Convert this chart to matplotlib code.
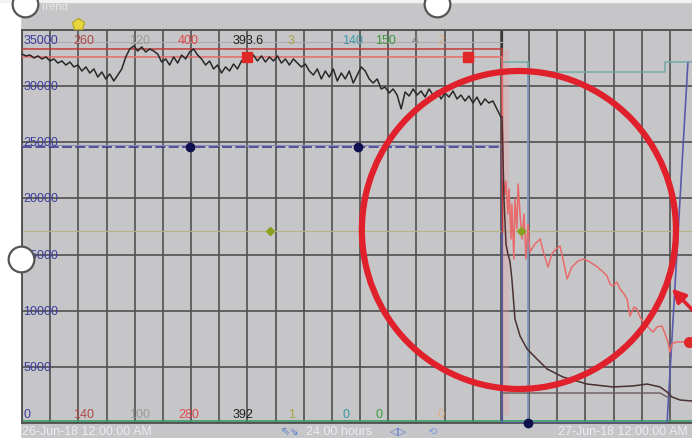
import numpy as np
import matplotlib.pyplot as plt
from matplotlib.patches import Ellipse
from matplotlib.lines import Line2D

plt.rcParams['font.family'] = ['Liberation Sans', 'DejaVu Sans']

W, H = 692, 439
BG = '#c6c6c8'
GRID = '#505050'

# 24 h window, primary scale 0..35000
SPAN_H = 24
Y_MAX = 35000

# black pen, one sample every 8.5 min up to the stop
black_step_h = 8.5 / 60
black_vals = [32860, 32690, 32770, 32510, 32690, 32420, 32600, 32240, 32420, 32060,
              32240, 31880, 32150, 31710, 31880, 31350, 31710, 31170, 31530, 30810,
              31260, 30640, 31080, 30460, 30990, 31530, 32600, 33310, 33580, 33130,
              33490, 33040, 33310, 33130, 32860, 32150, 32420, 31880, 32600, 32060,
              32770, 32420, 33040, 33310, 32770, 32420, 31880, 32240, 31530, 31880,
              31170, 31710, 31350, 31970, 31530, 32240, 32600, 32240, 32770, 32240,
              32690, 32150, 32600, 32240, 32690, 32060, 32420, 31880, 32420, 32060,
              31710, 31970, 31350, 30990, 31530, 30640, 31350, 30810, 31530, 30460,
              31170, 30640, 31350, 30280, 30990, 31710, 31350, 30640, 30280, 30640,
              29750, 29920, 29390, 29750, 29210, 27970, 29480, 29120, 29750, 29210,
              29570, 29030, 29750, 29210, 29570, 28860, 29390, 29030, 29570, 28860,
              29210, 28680, 29120, 28500, 29030, 28320, 28860, 28500, 28680, 27970,
              27250]

# same pen after the stop (run-down)
tail_h = [17.04, 17.11, 17.18, 17.25, 17.32, 17.39, 17.50, 17.68, 17.93, 18.28, 18.64,
          19.20, 20.06, 20.98, 21.69, 22.19, 22.65, 22.90, 23.07, 23.36, 23.78]
tail_vals = [27250, 19950, 15940, 15050, 14430, 12830, 9260, 7750, 6590, 5700, 4810,
             4100, 3470, 3210, 3300, 3470, 3210, 2760, 2320, 2050, 1960]
floor_h = [17.04, 22.65, 22.90]
floor_vals = [2670, 2670, 2320]

# red pen: held value, then falling after the stop
red_hold = 32600
red_upper = 33310
red_marks_h = [7.99, 15.83]
red_h = [0, 17.04, 17.07, 17.15, 17.18, 17.25, 17.29, 17.36, 17.39, 17.46, 17.50, 17.57,
         17.61, 17.68, 17.75, 17.82, 17.89, 17.96, 18.03, 18.21, 18.39, 18.53, 18.67,
         18.81, 18.96, 19.10, 19.24, 19.35, 19.52, 19.74, 19.95, 20.16, 20.38, 20.59,
         20.77, 20.87, 20.98, 21.12, 21.23, 21.37, 21.48, 21.58, 21.73, 21.83, 21.94,
         22.05, 22.22, 22.40, 22.54, 22.72, 22.83, 22.93, 23.00, 23.07, 23.22, 23.78]
red_vals = [red_hold, red_hold, 21910, 20390, 21550, 18610, 20840, 16390, 19500, 14610,
            19950, 17280, 21290, 18610, 16390, 18610, 14610, 17720, 15230, 15940, 16390,
            15050, 13890, 15050, 15500, 15760, 14160, 12830, 13890, 14430, 14610, 14340,
            13980, 13540, 13090, 12380, 12200, 12560, 11930, 11490, 11040, 9530, 10330,
            10150, 9440, 8990, 8550, 8100, 8550, 8640, 7930, 7210, 6320, 7040, 7210, 7210]
red_last = (23.68, 7210)

# blue pen: held value, then dropped to zero and climbing again at the end
blue_val = 24600
blue_h = [17.04, 17.04, 22.90, 23.64]
blue_vals = [blue_val, 0, 0, 32150]
blue_marks_h = [5.96, 11.93, 17.96]
blue_marks_v = [blue_val, blue_val, 0]

# teal pen (only after the stop)
teal_h = [17.04, 17.96, 17.96, 22.82, 22.82, 24]
teal_vals = [32150, 32150, 31260, 31260, 32150, 32150]

olive_val = 17100
olive_marks_h = [8.80, 17.71]
green_val = 150
cursor_h = 17.96

top_scale = [("35000", '#3c3c9c'), ("260", '#b04848'), ("120", '#9a9a9a'),
             ("400", '#e04848'), ("393.6", '#202020'), ("3", '#a8a840'),
             ("140", '#3a9aaa'), ("150", '#3a9a3a'), ("4", '#858585'), ("2", '#e0b080')]
bottom_scale = [("0", '#3c3c9c'), ("140", '#b04848'), ("100", '#9a9a9a'),
                ("280", '#e04848'), ("392", '#202020'), ("1", '#a8a840'),
                ("0", '#3a9aaa'), ("0", '#3a9a3a'), ("0", '#e0b080')]
scale_x = [0.04, 1.82, 3.8, 5.54, 7.46, 9.44, 11.36, 12.54, 13.85, 14.75]
left_ticks = [30000, 25000, 20000, 15000, 10000, 5000]

fig = plt.figure(figsize=(W / 100, H / 100), dpi=100, facecolor=BG)
ax = fig.add_axes([22 / W, 15 / H, (SPAN_H * 28.17) / W, 393 / H])
ax.set_facecolor(BG)
ax.set_xlim(0, SPAN_H)
ax.set_ylim(0, Y_MAX)
ax.set_xticks(np.arange(0, SPAN_H + 1, 1))
ax.set_yticks(np.arange(0, Y_MAX + 1, 5000))
ax.grid(color=GRID, lw=1.2)
ax.tick_params(length=0, labelbottom=False, labelleft=False)
for s in ax.spines.values():
    s.set_color(GRID)
    s.set_linewidth(1.3)
ax.axvline(17.04, color='#3a3a3a', lw=1.6, zorder=2)

black_h = np.arange(len(black_vals)) * black_step_h
ax.plot([0, 17.04], [33930, 33930], color='#b4a8b0', lw=0.8, zorder=2)
ax.axhline(olive_val, color='#b8b488', lw=0.9, zorder=2)
ax.plot(olive_marks_h, [olive_val] * 2, ls='none', marker='D', ms=4,
        color='#8aa020', zorder=5)
ax.axhline(green_val, color='#3a9a6a', lw=1.2, zorder=2)

ax.plot([0, 17.04], [blue_val, blue_val], color='#3c3c90', lw=1.2, ls=(0, (6, 2)), zorder=3)
ax.plot([0, 17.04], [blue_val + 150, blue_val + 150], color='#8c8cb4', lw=0.8, zorder=3)
ax.plot(blue_h, blue_vals, color='#5a5aa8', lw=1.2, zorder=3)
ax.plot(blue_marks_h, blue_marks_v, ls='none', marker='o', ms=6,
        color='#101050', zorder=6, clip_on=False)
ax.plot([cursor_h, cursor_h], [0, 32150], color='#7a9ac0', lw=1.3, zorder=3)
ax.plot(teal_h, teal_vals, color='#72aaa6', lw=1.1, zorder=3)

# pink smear where the red pens fall
ax.axvspan(17.04, 17.3, ymin=0.02, ymax=0.95, color='#e8a0a0', alpha=0.35, lw=0, zorder=2)
ax.plot([0, 17.04, 17.06], [red_upper, red_upper, 17000], color='#c03a3a', lw=1.1, zorder=4)
ax.plot(red_h, red_vals, color='#e86a6a', lw=1.1, zorder=4)
ax.plot(red_marks_h, [red_hold] * 2, ls='none', marker='s', ms=6.5,
        color='#e02828', zorder=6)
ax.plot(*red_last, ls='none', marker='o', ms=7, color='#e02828', zorder=6, clip_on=False)

ax.plot(black_h, black_vals, color='#282828', lw=1.1, zorder=5)
ax.plot(tail_h, tail_vals, color='#4a3030', lw=1.1, zorder=5)
ax.plot(floor_h, floor_vals, color='#6a5a5a', lw=1.0, zorder=4)

# cursor flag above the plot
ax.plot([1.99], [35530], ls='none', marker='p', ms=9, color='#e8d840',
        mec='#b8a830', clip_on=False, zorder=7)

for (txt, col), x in zip(top_scale, scale_x):
    ax.text(x, 34150, txt, color=col, fontsize=9, va='center', ha='left', zorder=7)
for (txt, col), x in zip(bottom_scale, scale_x[:8] + scale_x[9:]):
    ax.text(x, 800, txt, color=col, fontsize=9, va='center', ha='left', zorder=7)
for v in left_ticks:
    ax.text(0.04, v, f"{v}", color='#3c3c9c', fontsize=9, va='center', ha='left', zorder=7)

# highlight ring and pointer
ax.add_patch(Ellipse((17.64, 17190), 11.15, 28320, fill=False, ec='#e0202a',
                     lw=4.5, zorder=8))
ax.annotate('', xy=(23.0, 12150), xytext=(24.4, 8500),
            arrowprops=dict(arrowstyle='-|>', color='#e0202a', lw=2.6, mutation_scale=20),
            annotation_clip=False, zorder=8)

# frame around the chart
fig.add_artist(plt.Rectangle((0, 0), 20 / W, 1, transform=fig.transFigure,
                             color='white', zorder=0))
fig.add_artist(plt.Rectangle((0, 1 - 3 / H), 1, 3 / H, transform=fig.transFigure,
                             color='#f2f2f2', zorder=0))
for hx, hy in [(25, 5), (437, 5), (21, 260)]:
    fig.add_artist(Line2D([hx / W], [1 - hy / H], transform=fig.transFigure,
                          marker='o', ms=18.5, mfc='white', mec='#555555', mew=1.6,
                          zorder=10))
fig.text(40 / W, 1 - 7 / H, "Trend", color='#e8e8e8', fontsize=8, va='center')

foot_y = 1 - 432 / H
fig.text(22 / W, foot_y, "26-Jun-18 12:00:00 AM", color='#ececf2', fontsize=9, va='center')
fig.text(280 / W, foot_y, "\u21d6\u21d8", color='#5a7ad0', fontsize=8, va='center')
fig.text(306 / W, foot_y, "24.00 hours", color='#ececf2', fontsize=9, va='center')
fig.text(390 / W, foot_y, "\u25c1\u25b7", color='#5a7ad0', fontsize=8, va='center',
         family='DejaVu Sans')
fig.text(428 / W, foot_y, "\u27f2", color='#7a9ad8', fontsize=8, va='center',
         family='DejaVu Sans')
fig.text(558 / W, foot_y, "27-Jun-18 12:00:00 AM", color='#ececf2', fontsize=9, va='center')

fig.savefig('out.png', dpi=100, facecolor=BG)
